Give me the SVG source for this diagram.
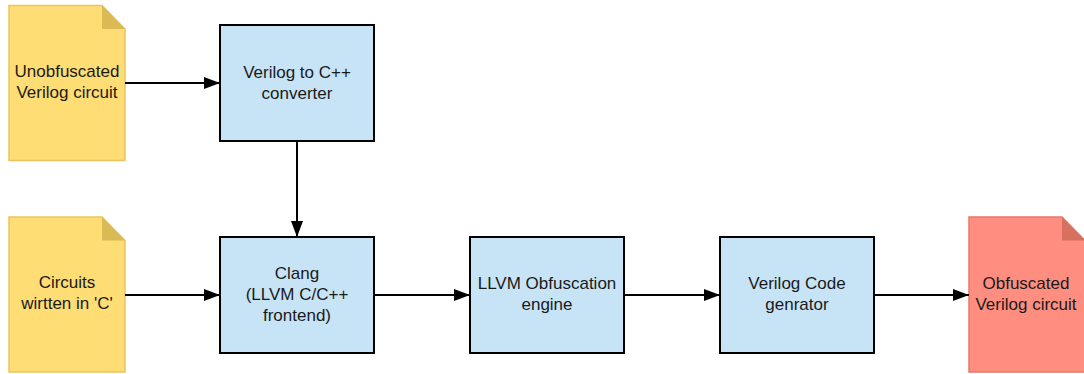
<svg xmlns="http://www.w3.org/2000/svg" width="1084" height="374" viewBox="0 0 1084 374">
<defs>
<marker id="arr" markerWidth="16" markerHeight="12" refX="16" refY="6" orient="auto" markerUnits="userSpaceOnUse">
<path d="M0,0 L16,6 L0,12 Z" fill="#000"/>
</marker>
<style>
.doc-y{fill:#FFDD75;stroke:#EAC45C;stroke-width:1.5}
.fold-y{fill:#D9BA55}
.doc-r{fill:#FF8E80;stroke:#E57A6C;stroke-width:1.5}
.fold-r{fill:#D6705F}
.box{fill:#C7E4F6;stroke:#000;stroke-width:2}
.lbl{font-family:"Liberation Sans",Arial,sans-serif;font-size:17px;fill:#1a1a1a;text-anchor:middle}
.conn{stroke:#000;stroke-width:2;fill:none;marker-end:url(#arr)}
</style>
</defs>
<rect width="1084" height="374" fill="#fff"/>
<g id="doc-unobf">
<path class="doc-y" d="M9,5.5 H102 L125,29 V160.5 H9 Z"/>
<path class="fold-y" d="M102,5.5 L125,29 H102 Z"/>
<text class="lbl" x="67" y="77">Unobfuscated</text>
<text class="lbl" x="67" y="98">Verilog circuit</text>
</g>
<g id="doc-c">
<path class="doc-y" d="M9,217 H102 L125,240.5 V372 H9 Z"/>
<path class="fold-y" d="M102,217 L125,240.5 H102 Z"/>
<text class="lbl" x="67" y="288">Circuits</text>
<text class="lbl" x="67" y="309">wirtten in 'C'</text>
</g>
<g id="box-v2c">
<rect class="box" x="220" y="25" width="154" height="116"/>
<text class="lbl" x="297" y="78">Verilog to C++</text>
<text class="lbl" x="297" y="99">converter</text>
</g>
<g id="box-clang">
<rect class="box" x="220" y="237" width="154" height="116"/>
<text class="lbl" x="297" y="279">Clang</text>
<text class="lbl" x="297" y="300">(LLVM C/C++</text>
<text class="lbl" x="297" y="321">frontend)</text>
</g>
<g id="box-llvm">
<rect class="box" x="470" y="237" width="154" height="116"/>
<text class="lbl" x="547" y="289">LLVM Obfuscation</text>
<text class="lbl" x="547" y="310">engine</text>
</g>
<g id="box-vcg">
<rect class="box" x="720" y="237" width="154" height="116"/>
<text class="lbl" x="797" y="289">Verilog Code</text>
<text class="lbl" x="797" y="310">genrator</text>
</g>
<g id="doc-obf">
<path class="doc-r" d="M969,217 H1062 L1085,240.5 V372 H969 Z"/>
<path class="fold-r" d="M1062,217 L1085,240.5 H1062 Z"/>
<text class="lbl" x="1026" y="289">Obfuscated</text>
<text class="lbl" x="1026" y="310">Verilog circuit</text>
</g>
<g id="connectors">
<line class="conn" x1="125" y1="83" x2="220" y2="83"/>
<line class="conn" x1="297" y1="141" x2="297" y2="237"/>
<line class="conn" x1="125" y1="295" x2="220" y2="295"/>
<line class="conn" x1="374" y1="295" x2="470" y2="295"/>
<line class="conn" x1="624" y1="295" x2="720" y2="295"/>
<line class="conn" x1="874" y1="295" x2="969" y2="295"/>
</g>
</svg>
